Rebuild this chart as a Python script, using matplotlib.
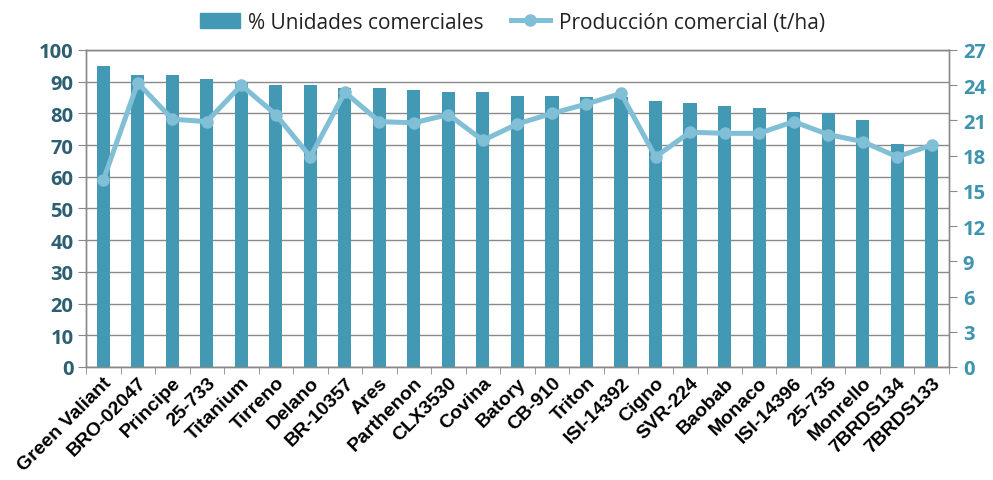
import numpy as np
import matplotlib.pyplot as plt
from matplotlib.lines import Line2D
from matplotlib.patches import Patch

varieties = ["Green Valiant", "BRO-02047", "Principe", "25-733", "Titanium", "Tirreno",
             "Delano", "BR-10357", "Ares", "Parthenon", "CLX3530", "Covina", "Batory",
             "CB-910", "Triton", "ISI-14392", "Cigno", "SVR-224", "Baobab", "Monaco",
             "ISI-14396", "25-735", "Monrello", "7BRDS134", "7BRDS133"]
pct_units = [94.8, 92.2, 92.2, 91.0, 90.0, 88.8, 88.8, 88.0, 87.9, 87.5, 86.9, 86.8,
             85.6, 85.6, 85.3, 85.2, 84.0, 83.4, 82.2, 81.7, 80.5, 80.1, 78.0, 70.3, 70.0]
production = [15.9, 24.2, 21.1, 20.9, 24.0, 21.5, 17.9, 23.4, 20.9, 20.8, 21.5, 19.3,
              20.7, 21.6, 22.4, 23.3, 17.9, 20.0, 19.9, 19.9, 20.9, 19.8, 19.2, 17.9, 18.9]

barColor = "#4399B4"
lineColor = "#80BFD6"
gridColor = "#8a8a8a"

fig = plt.figure(figsize=(9.93, 4.81), dpi=100)
ax = fig.add_axes([0.0866, 0.235, 0.869, 0.659])
ax2 = ax.twinx()

x = np.arange(len(varieties))
ax.bar(x, pct_units, width=0.38, color=barColor, zorder=3)
ax2.plot(x, production, color=lineColor, linewidth=3.6, marker="o", markersize=8,
         markerfacecolor=lineColor, markeredgecolor=lineColor, zorder=4)

ax.set_xlim(-0.5, len(varieties) - 0.5)
ax.set_ylim(0, 100)
ax2.set_ylim(0, 27)
ax.set_yticks(np.arange(0, 101, 10))
ax2.set_yticks(np.arange(0, 28, 3))

ax.yaxis.grid(True, color=gridColor, linewidth=1.0, zorder=0)
ax.set_axisbelow(True)

for a in (ax, ax2):
    for side in ("left", "right", "top", "bottom"):
        a.spines[side].set_color(gridColor)
        a.spines[side].set_linewidth(1.0)

ax.set_xticks(x)
ax.set_xticklabels(varieties, rotation=45, ha="right", rotation_mode="anchor",
                   fontsize=14, fontweight="bold", family="Liberation Sans")
ax.set_xticks(np.arange(-0.5, len(varieties), 1), minor=True)
ax.tick_params(axis="x", which="major", length=0, pad=5)
ax.tick_params(axis="x", which="minor", length=5, color=gridColor)

ax.tick_params(axis="y", length=6, color=gridColor, pad=3)
ax2.tick_params(axis="y", length=6, color=gridColor, pad=4)
for lbl in ax.get_yticklabels():
    lbl.set_fontsize(14.5)
    lbl.set_fontweight("bold")
    lbl.set_family("Open Sans")
    lbl.set_color("#2C5F72")
for lbl in ax2.get_yticklabels():
    lbl.set_fontsize(14.5)
    lbl.set_fontweight("bold")
    lbl.set_family("Open Sans")
    lbl.set_color("#3E93AE")

handles = [Patch(color=barColor, label="% Unidades comerciales"),
           Line2D([0], [0], color=lineColor, linewidth=3.6, marker="o", markersize=8,
                  label="Producción comercial (t/ha)")]
fig.legend(handles=handles, loc="center", bbox_to_anchor=(0.516, 0.952), ncol=2,
           frameon=False, prop={"family": "Open Sans", "size": 15},
           handlelength=1.9, columnspacing=1.3, handletextpad=0.4,
           labelcolor="#222222")

fig.savefig("out.png", dpi=100)
